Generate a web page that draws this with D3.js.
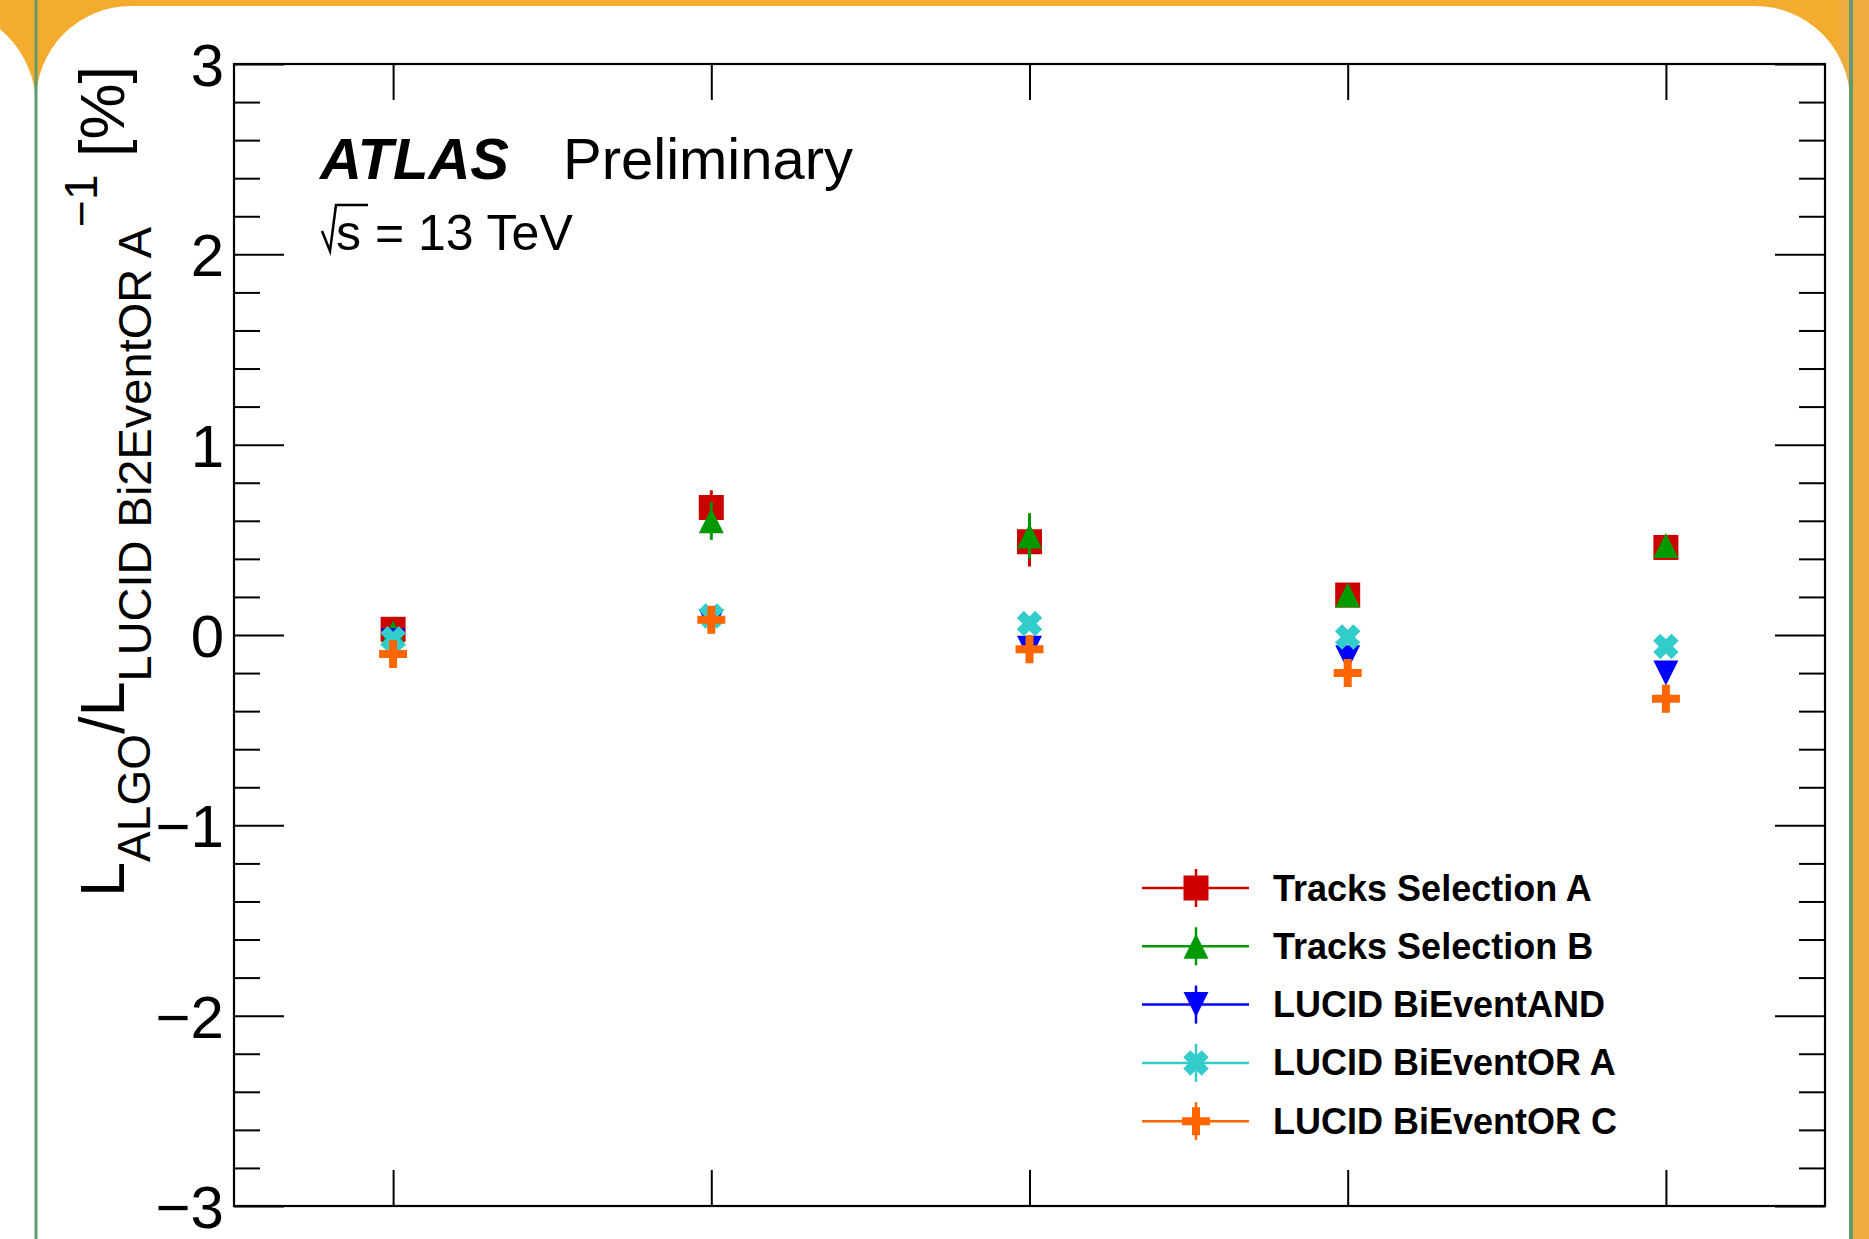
<!DOCTYPE html>
<html>
<head>
<meta charset="utf-8">
<script src="https://cdn.jsdelivr.net/npm/d3@7"></script>
<style>
  html, body { margin: 0; padding: 0; background: #f4ac2e; }
  svg { display: block; }
  text { font-family: "Liberation Sans", Arial, Helvetica, sans-serif; }
</style>
</head>
<body>
<svg id="chart" width="1869" height="1239"></svg>
<script>
// Run positions along the x axis (no labels are drawn on this axis)
const runPoints = [1, 2, 3, 4, 5];

// Series names as they appear in the legend
const seriesNames = [
  "Tracks Selection A",
  "Tracks Selection B",
  "LUCID BiEventAND",
  "LUCID BiEventOR A",
  "LUCID BiEventOR C"
];

// Ratio minus one, in percent, for each algorithm
const tracksSelA    = [0.03, 0.67, 0.49, 0.21, 0.46];
const tracksSelAErr = [0.04, 0.09, 0.13, 0.03, 0.03];
const tracksSelB    = [0.01, 0.60, 0.52, 0.21, 0.47];
const tracksSelBErr = [0.04, 0.10, 0.12, 0.03, 0.03];
const lucidAND      = [-0.03, 0.07, -0.07, -0.12, -0.20];
const lucidANDErr   = [0.02, 0.02, 0.02, 0.02, 0.02];
const lucidORA      = [-0.02, 0.10, 0.06, -0.01, -0.06];
const lucidORAErr   = [0.02, 0.02, 0.02, 0.02, 0.02];
const lucidORC      = [-0.10, 0.08, -0.075, -0.20, -0.335];
const lucidORCErr   = [0.02, 0.02, 0.02, 0.02, 0.02];

// y axis tick values and labels
const yMajorTicks = [-3, -2, -1, 0, 1, 2, 3];
const yTickLabels = ["\u22123", "\u22122", "\u22121", "0", "1", "2", "3"];

// Marker styles per series
const seriesStyles = [
  { color: "#cc0000", shape: "square" },
  { color: "#009a00", shape: "triUp" },
  { color: "#0000ff", shape: "triDown" },
  { color: "#33cccc", shape: "xcross" },
  { color: "#ff6600", shape: "plus" }
];

const seriesValues = [tracksSelA, tracksSelB, lucidAND, lucidORA, lucidORC];
const seriesErrors = [tracksSelAErr, tracksSelBErr, lucidANDErr, lucidORAErr, lucidORCErr];

const W = 1869, H = 1239;
const svg = d3.select("#chart");

// ---- page background: orange slide with white rounded cards ----
svg.append("rect").attr("x", 0).attr("y", 0).attr("width", W).attr("height", H).attr("fill", "#f4ac2e");
svg.append("rect").attr("x", W - 30).attr("y", 0).attr("width", 30).attr("height", H).attr("fill", "#eeab3f");
svg.append("rect").attr("x", -200).attr("y", 6).attr("width", 236).attr("height", H + 200)
  .attr("rx", 100).attr("fill", "#ffffff");
svg.append("rect").attr("x", 36).attr("y", 6).attr("width", 1850 - 36).attr("height", H + 200)
  .attr("rx", 95).attr("fill", "#ffffff");
svg.append("line").attr("x1", 36).attr("x2", 36).attr("y1", 0).attr("y2", H)
  .attr("stroke", "#5f9a72").attr("stroke-width", 3);
svg.append("line").attr("x1", 1851).attr("x2", 1851).attr("y1", 0).attr("y2", H)
  .attr("stroke", "#5f9a72").attr("stroke-width", 4);

// ---- plot frame and scales ----
const plot = { left: 234, right: 1825, top: 64, bottom: 1206 };
const x = d3.scaleLinear().domain([0.5, 5.5]).range([plot.left, plot.right]);
const y = d3.scaleLinear().domain([-3, 3]).range([plot.bottom, plot.top]);

const yMinorTicks = d3.range(-3, 3.0001, 0.2)
  .map(v => Math.round(v * 10) / 10)
  .filter(v => !yMajorTicks.includes(v));

const axisFont = 60;

// left axis: major ticks with labels
const leftMajor = svg.append("g").attr("transform", `translate(${plot.left},0)`)
  .call(d3.axisLeft(y).tickValues(yMajorTicks).tickSize(-50).tickPadding(10)
    .tickFormat(d => yTickLabels[yMajorTicks.indexOf(d)]));
leftMajor.select(".domain").remove();
leftMajor.selectAll("line").attr("stroke", "#000").attr("stroke-width", 2);
leftMajor.selectAll("text").attr("font-size", axisFont).attr("fill", "#000")
  .attr("font-family", "Liberation Sans, Arial, sans-serif").attr("dy", "0.36em");

// left axis: minor ticks
const leftMinor = svg.append("g").attr("transform", `translate(${plot.left},0)`)
  .call(d3.axisLeft(y).tickValues(yMinorTicks).tickSize(-26).tickFormat(""));
leftMinor.select(".domain").remove();
leftMinor.selectAll("line").attr("stroke", "#000").attr("stroke-width", 2);

// right axis: ticks pointing inward, no labels
const rightMajor = svg.append("g").attr("transform", `translate(${plot.right},0)`)
  .call(d3.axisRight(y).tickValues(yMajorTicks).tickSize(-50).tickFormat(""));
rightMajor.select(".domain").remove();
rightMajor.selectAll("line").attr("stroke", "#000").attr("stroke-width", 2);
const rightMinor = svg.append("g").attr("transform", `translate(${plot.right},0)`)
  .call(d3.axisRight(y).tickValues(yMinorTicks).tickSize(-26).tickFormat(""));
rightMinor.select(".domain").remove();
rightMinor.selectAll("line").attr("stroke", "#000").attr("stroke-width", 2);

// bottom and top x ticks, no labels
const bottomAxis = svg.append("g").attr("transform", `translate(0,${plot.bottom})`)
  .call(d3.axisBottom(x).tickValues(runPoints).tickSize(-36).tickFormat(""));
bottomAxis.select(".domain").remove();
bottomAxis.selectAll("line").attr("stroke", "#000").attr("stroke-width", 2);
const topAxis = svg.append("g").attr("transform", `translate(0,${plot.top})`)
  .call(d3.axisTop(x).tickValues(runPoints).tickSize(-36).tickFormat(""));
topAxis.select(".domain").remove();
topAxis.selectAll("line").attr("stroke", "#000").attr("stroke-width", 2);

svg.append("rect")
  .attr("x", plot.left).attr("y", plot.top)
  .attr("width", plot.right - plot.left).attr("height", plot.bottom - plot.top)
  .attr("fill", "none").attr("stroke", "#000").attr("stroke-width", 2.2);

// ---- marker shapes ----
function markerPath(shape) {
  const h = 12.5;
  switch (shape) {
    case "square":
      return `M${-h},${-h}H${h}V${h}H${-h}Z`;
    case "triUp":
      return `M0,${-h}L${h},${h}L${-h},${h}Z`;
    case "triDown":
      return `M${-h},${-h}L${h},${-h}L0,${h}Z`;
    case "plus": {
      const a = 14, t = 4;
      return `M${-t},${-a}H${t}V${-t}H${a}V${t}H${t}V${a}H${-t}V${t}H${-a}V${-t}H${-t}Z`;
    }
    case "xcross": {
      const a = 13, t = 5;
      const pts = [[-t, -a], [t, -a], [t, -t], [a, -t], [a, t], [t, t], [t, a], [-t, a], [-t, t], [-a, t], [-a, -t], [-t, -t]];
      const c = Math.SQRT1_2;
      return "M" + pts.map(([px, py]) => `${(px - py) * c},${(px + py) * c}`).join("L") + "Z";
    }
  }
}

// ---- data points with vertical error bars ----
const dataLayer = svg.append("g");
seriesValues.forEach((vals, si) => {
  const st = seriesStyles[si];
  const g = dataLayer.append("g");
  runPoints.forEach((rp, i) => {
    const cx = x(rp), v = vals[i], e = seriesErrors[si][i];
    g.append("line")
      .attr("x1", cx).attr("x2", cx)
      .attr("y1", y(v - e)).attr("y2", y(v + e))
      .attr("stroke", st.color).attr("stroke-width", 3);
    g.append("path")
      .attr("d", markerPath(st.shape))
      .attr("transform", `translate(${cx},${y(v)})`)
      .attr("fill", st.color);
  });
});

// ---- legend ----
const legend = { lineX1: 1142, lineX2: 1249, markX: 1196, textX: 1273, y0: 888, dy: 58.3 };
seriesNames.forEach((name, i) => {
  const st = seriesStyles[i];
  const ly = legend.y0 + i * legend.dy;
  const g = svg.append("g");
  g.append("line").attr("x1", legend.lineX1).attr("x2", legend.lineX2)
    .attr("y1", ly).attr("y2", ly).attr("stroke", st.color).attr("stroke-width", 2.5);
  g.append("line").attr("x1", legend.markX).attr("x2", legend.markX)
    .attr("y1", ly - 19).attr("y2", ly + 19).attr("stroke", st.color).attr("stroke-width", 2.5);
  g.append("path").attr("d", markerPath(st.shape))
    .attr("transform", `translate(${legend.markX},${ly})`).attr("fill", st.color);
  g.append("text").attr("x", legend.textX).attr("y", ly + 12.5)
    .attr("font-size", 36).attr("font-weight", "bold").attr("fill", "#000")
    .text(name);
});

// ---- ATLAS label and energy ----
svg.append("text").attr("x", 320).attr("y", 179)
  .attr("font-size", 58).attr("font-weight", "bold").attr("font-style", "italic")
  .attr("fill", "#000").text("ATLAS");
svg.append("text").attr("x", 563).attr("y", 179)
  .attr("font-size", 58).attr("fill", "#000").text("Preliminary");
svg.append("path").attr("d", "M322,231L330,251L336,205L368,205")
  .attr("fill", "none").attr("stroke", "#000").attr("stroke-width", 2.5);
svg.append("text").attr("x", 336).attr("y", 250)
  .attr("font-size", 50).attr("fill", "#000").text("s = 13 TeV");

// ---- y axis title ----
const title = svg.append("text")
  .attr("transform", "translate(124,66) rotate(-90)")
  .attr("text-anchor", "end").attr("fill", "#000").attr("font-size", 63);
title.append("tspan").text("L");
title.append("tspan").attr("font-size", 46).attr("dy", 26).text("ALGO");
title.append("tspan").attr("dy", -26).text("/L");
title.append("tspan").attr("font-size", 47).attr("dy", 27).text("LUCID Bi2EventOR A");
title.append("tspan").attr("font-size", 46).attr("dy", -54).text("\u22121");
title.append("tspan").attr("dy", 27).text(" [%]");
</script>
</body>
</html>
